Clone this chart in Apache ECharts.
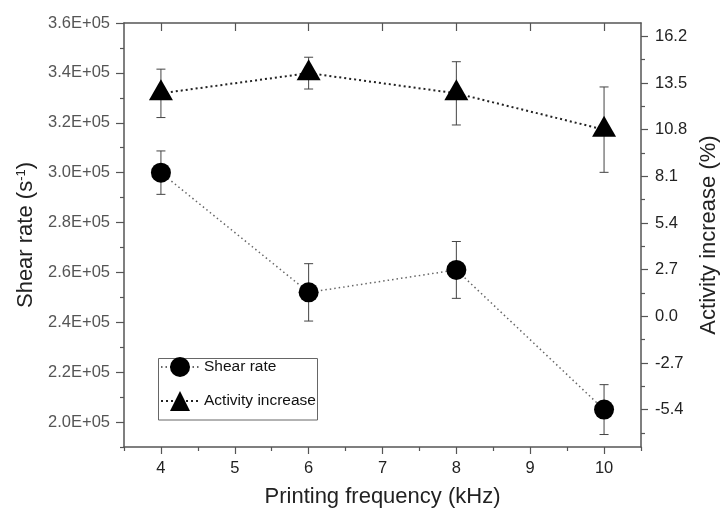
<!DOCTYPE html>
<html>
<head>
<meta charset="utf-8">
<title>Shear rate and activity increase vs printing frequency</title>
<script src="https://cdn.jsdelivr.net/npm/echarts@6/dist/echarts.min.js"></script>
<style>
  html, body { margin: 0; padding: 0; background: #fff; }
  #chart { width: 728px; height: 513px; }
</style>
</head>
<body>
<div id="chart"></div>
<script>
// values
const freq = [4, 6, 8, 10];
const shearRate = [300000, 252000, 261000, 205000];
const shearErr = [8700, 11500, 11400, 10000];
const activity = [12.9, 14.07, 12.9, 10.8];
const activityErr = [1.4, 0.92, 1.83, 2.47];

const xTicks = [4, 5, 6, 7, 8, 9, 10];
const xMinorTicks = [3.5, 4.5, 5.5, 6.5, 7.5, 8.5, 9.5, 10.5];
const shearTicks = [200000, 220000, 240000, 260000, 280000, 300000, 320000, 340000, 360000];
const shearMinorTicks = [190000, 210000, 230000, 250000, 270000, 290000, 310000, 330000, 350000];
const activityTicks = [-5.4, -2.7, 0, 2.7, 5.4, 8.1, 10.8, 13.5, 16.2];
const activityMinorTicks = [-6.75, -4.05, -1.35, 1.35, 4.05, 6.75, 9.45, 12.15, 14.85];

const FONT = '"Liberation Sans", Arial, sans-serif';
const AXIS_COLOR = '#555';

const chart = echarts.init(document.getElementById('chart'), null, { renderer: 'canvas' });

function errorBars(params, api) {
  const x = api.value(0), y = api.value(1), e = api.value(2);
  const hi = api.coord([x, y + e]);
  const lo = api.coord([x, y - e]);
  const w = 4.5;
  const style = { stroke: '#444', lineWidth: 1 };
  return {
    type: 'group',
    children: [
      { type: 'line', shape: { x1: hi[0], y1: hi[1], x2: lo[0], y2: lo[1] }, style },
      { type: 'line', shape: { x1: hi[0] - w, y1: hi[1], x2: hi[0] + w, y2: hi[1] }, style },
      { type: 'line', shape: { x1: lo[0] - w, y1: lo[1], x2: lo[0] + w, y2: lo[1] }, style },
    ],
  };
}

const hidden = { axisLine: { show: false, onZero: false }, axisLabel: { show: false }, splitLine: { show: false } };

const option = {
  animation: false,
  backgroundColor: '#fff',
  textStyle: { fontFamily: FONT },
  grid: { left: 124, right: 79, top: 23, bottom: 66 },
  xAxis: [
    {
      type: 'value', min: 3.5, max: 10.5, position: 'bottom',
      name: 'Printing frequency (kHz)', nameLocation: 'middle', nameGap: 39,
      nameTextStyle: { fontSize: 22, color: '#222', fontFamily: FONT },
      axisLine: { onZero: false, lineStyle: { color: AXIS_COLOR, width: 1.5 } },
      axisTick: { length: 7, lineStyle: { color: AXIS_COLOR, width: 1.2 }, customValues: xTicks },
      axisLabel: { customValues: xTicks, margin: 13, fontSize: 16.5, color: '#222', fontFamily: FONT },
      splitLine: { show: false },
    },
    {
      type: 'value', min: 3.5, max: 10.5, position: 'bottom', ...hidden,
      axisTick: { length: 4, lineStyle: { color: AXIS_COLOR, width: 1.2 }, customValues: xMinorTicks },
    },
    {
      type: 'value', min: 3.5, max: 10.5, position: 'top',
      axisLine: { onZero: false, lineStyle: { color: AXIS_COLOR, width: 1.5 } },
      axisTick: { inside: true, length: 8, lineStyle: { color: AXIS_COLOR, width: 1.2 }, customValues: xTicks },
      axisLabel: { show: false }, splitLine: { show: false },
    },
  ],
  yAxis: [
    {
      type: 'value', min: 190000, max: 360000, position: 'left',
      name: 'Shear rate (s{sup|-1})', nameLocation: 'middle', nameGap: 85, nameRotate: 90,
      nameTextStyle: {
        fontSize: 22, color: '#222', fontFamily: FONT,
        rich: { sup: { fontSize: 13, verticalAlign: 'top', color: '#222', fontFamily: FONT } },
      },
      axisLine: { show: true, onZero: false, lineStyle: { color: AXIS_COLOR, width: 1.5 } },
      axisTick: { length: 8, lineStyle: { color: AXIS_COLOR, width: 1.2 }, customValues: shearTicks },
      axisLabel: {
        customValues: shearTicks, margin: 14, fontSize: 16.5, color: '#555', fontFamily: FONT,
        formatter: v => (v / 100000).toFixed(1) + 'E+05',
      },
      splitLine: { show: false },
    },
    {
      type: 'value', min: -7.56, max: 16.97, position: 'right',
      name: 'Activity increase (%)', nameLocation: 'middle', nameGap: 53, nameRotate: 90,
      nameTextStyle: { fontSize: 22, color: '#222', fontFamily: FONT },
      axisLine: { show: true, onZero: false, lineStyle: { color: AXIS_COLOR, width: 1.5 } },
      axisTick: { length: 7, lineStyle: { color: AXIS_COLOR, width: 1.2 }, customValues: activityTicks },
      axisLabel: {
        customValues: activityTicks, margin: 14, fontSize: 16.5, color: '#222', fontFamily: FONT,
        formatter: v => v.toFixed(1),
      },
      splitLine: { show: false },
    },
    {
      type: 'value', min: 190000, max: 360000, position: 'left', ...hidden,
      axisTick: { length: 4, lineStyle: { color: AXIS_COLOR, width: 1.2 }, customValues: shearMinorTicks },
    },
    {
      type: 'value', min: -7.56, max: 16.97, position: 'right', ...hidden,
      axisTick: { length: 4, lineStyle: { color: AXIS_COLOR, width: 1.2 }, customValues: activityMinorTicks },
    },
  ],
  legend: {
    orient: 'vertical', left: 160, top: 357, padding: 0,
    itemWidth: 38, itemHeight: 25, itemGap: 14,
    textStyle: { fontSize: 15.5, color: '#111', fontFamily: FONT },
    data: ['Shear rate', 'Activity increase'],
  },
  graphic: [
    {
      type: 'rect', z: -1, silent: true,
      shape: { x: 158.5, y: 358.5, width: 159, height: 61.5 },
      style: { fill: '#fff', stroke: '#666', lineWidth: 1 },
    },
  ],
  series: [
    {
      name: 'shear error', type: 'custom', xAxisIndex: 0, yAxisIndex: 0, z: 1,
      renderItem: errorBars, encode: { x: 0, y: 1 },
      data: freq.map((f, i) => [f, shearRate[i], shearErr[i]]),
    },
    {
      name: 'activity error', type: 'custom', xAxisIndex: 0, yAxisIndex: 1, z: 1,
      renderItem: errorBars, encode: { x: 0, y: 1 },
      data: freq.map((f, i) => [f, activity[i], activityErr[i]]),
    },
    {
      name: 'Shear rate', type: 'line', xAxisIndex: 0, yAxisIndex: 0, z: 3,
      symbol: 'circle', symbolSize: 20,
      itemStyle: { color: '#000' },
      lineStyle: { color: '#666', width: 1.5, type: [1.5, 3] },
      data: freq.map((f, i) => [f, shearRate[i]]),
    },
    {
      name: 'Activity increase', type: 'line', xAxisIndex: 0, yAxisIndex: 1, z: 3,
      symbol: 'triangle', symbolSize: [24, 21], symbolOffset: [0, -3.5],
      itemStyle: { color: '#000' },
      lineStyle: { color: '#222', width: 2, type: [2, 3] },
      data: freq.map((f, i) => [f, activity[i]]),
    },
  ],
};

chart.setOption(option);
</script>
</body>
</html>
